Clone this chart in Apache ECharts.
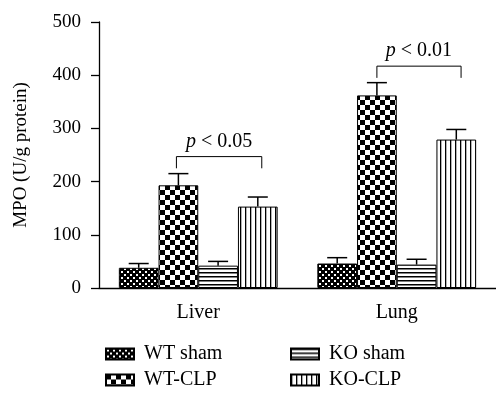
<!DOCTYPE html>
<html>
<head>
<meta charset="utf-8">
<script src="https://cdn.jsdelivr.net/npm/echarts@6/dist/echarts.min.js"></script>
<style>
  html, body { margin: 0; padding: 0; background: #fff; }
  #chart { width: 496px; height: 394px; }
</style>
</head>
<body>
<div id="chart"></div>
<script>
const categories = ['Liver', 'Lung']
const groups = ['WT sham', 'WT-CLP', 'KO sham', 'KO-CLP']

const wtSham = [38, 46]
const wtClp = [193, 362]
const koSham = [42, 44]
const koClp = [153, 279]

const wtShamErr = [8, 11]
const wtClpErr = [22, 24]
const koShamErr = [8, 10]
const koClpErr = [18, 19]

const yTicks = [0, 100, 200, 300, 400, 500]

// [category, left group, right group, bracket top, bracket ends, label]
const brackets = [
  [0, 0.95, 3.1, 247, 225, '0.05'],
  [1, 1, 3.12, 417, 395, '0.01'],
]

const FONT = 'Liberation Serif'

function makePattern(size, draw) {
  const c = document.createElement('canvas')
  c.width = size
  c.height = size
  const ctx = c.getContext('2d')
  ctx.fillStyle = '#fff'
  ctx.fillRect(0, 0, size, size)
  ctx.fillStyle = '#000'
  draw(ctx)
  return { image: c, repeat: 'repeat' }
}

const patterns = [
  makePattern(6, (ctx) => {
    ctx.fillRect(0, 0, 6, 6)
    ctx.fillStyle = '#fff'
    ctx.fillRect(1, 1, 2, 2)
    ctx.fillRect(4, 4, 2, 2)
  }),
  makePattern(10, (ctx) => {
    ctx.fillRect(0, 0, 5, 5)
    ctx.fillRect(5, 5, 5, 5)
  }),
  makePattern(4, (ctx) => {
    ctx.fillRect(0, 0, 4, 1.5)
  }),
  makePattern(5, (ctx) => {
    ctx.fillRect(0, 0, 1.3, 5)
  }),
]

const values = [wtSham, wtClp, koSham, koClp]
const errors = [wtShamErr, wtClpErr, koShamErr, koClpErr]

const barSeries = groups.map((name, s) => ({
  name,
  type: 'bar',
  data: values[s],
  barGap: '0%',
  barCategoryGap: '20%',
  itemStyle: { color: patterns[s], borderColor: '#000', borderWidth: 1 },
  z: 2,
}))

const errData = []
values.forEach((arr, s) => {
  arr.forEach((v, c) => errData.push([c, s, v, errors[s][c]]))
})

function barCenter(api, cat, s) {
  const bandW = api.size([1, 0])[0]
  const bw = (bandW * 0.8) / groups.length
  return api.coord([cat, 0])[0] + (s - (groups.length - 1) / 2) * bw
}

const errSeries = {
  type: 'custom',
  data: errData,
  z: 5,
  silent: true,
  renderItem: (params, api) => {
    const cat = api.value(0)
    const s = api.value(1)
    const mean = api.value(2)
    const err = api.value(3)
    const x = barCenter(api, cat, s)
    const y0 = api.coord([cat, mean])[1]
    const y1 = api.coord([cat, mean + err])[1]
    const style = { stroke: '#000', lineWidth: 1.5 }
    return {
      type: 'group',
      children: [
        { type: 'line', shape: { x1: x, y1: y0, x2: x, y2: y1 }, style },
        { type: 'line', shape: { x1: x - 10, y1: y1, x2: x + 10, y2: y1 }, style },
      ],
    }
  },
}

const bracketSeries = {
  type: 'custom',
  data: brackets,
  z: 5,
  silent: true,
  renderItem: (params, api) => {
    const b = brackets[params.dataIndex]
    const xl = barCenter(api, b[0], b[1])
    const xr = barCenter(api, b[0], b[2])
    const yt = api.coord([b[0], b[3]])[1]
    const ye = api.coord([b[0], b[4]])[1]
    return {
      type: 'group',
      children: [
        {
          type: 'polyline',
          shape: { points: [[xl, ye], [xl, yt], [xr, yt], [xr, ye]] },
          style: { stroke: '#000', lineWidth: 1, fill: null },
        },
        {
          type: 'text',
          x: (xl + xr) / 2,
          y: yt - 5,
          style: {
            text: '{i|p} < ' + b[5],
            align: 'center',
            verticalAlign: 'bottom',
            fontFamily: FONT,
            fontSize: 20,
            fill: '#000',
            rich: { i: { fontStyle: 'italic', fontFamily: FONT, fontSize: 20 } },
          },
        },
      ],
    }
  },
}

function legendItem(name, left, top) {
  return {
    icon: 'rect',
    itemWidth: 28,
    itemHeight: 11,
    left,
    top,
    data: [name],
    textStyle: { fontFamily: FONT, fontSize: 20, color: '#000', padding: [0, 0, 0, 5] },
  }
}

const chart = echarts.init(document.getElementById('chart'))
chart.setOption({
  animation: false,
  backgroundColor: '#fff',
  grid: { left: 99, right: 0, top: 22, bottom: 106 },
  legend: [
    legendItem(groups[0], 100, 339),
    legendItem(groups[1], 100, 365),
    legendItem(groups[2], 285, 339),
    legendItem(groups[3], 285, 365),
  ],
  xAxis: {
    type: 'category',
    data: categories,
    axisLine: { lineStyle: { color: '#000', width: 1.3 } },
    axisTick: { alignWithLabel: true, length: 8, lineStyle: { color: '#000', width: 1.3 } },
    axisLabel: { color: '#000', fontFamily: FONT, fontSize: 20, margin: 15 },
  },
  yAxis: {
    type: 'value',
    min: yTicks[0],
    max: yTicks[yTicks.length - 1],
    interval: 100,
    name: 'MPO (U/g protein)',
    nameLocation: 'middle',
    nameGap: 68,
    nameTextStyle: { color: '#000', fontFamily: FONT, fontSize: 19 },
    axisLine: { show: true, lineStyle: { color: '#000', width: 1.3 } },
    axisTick: { show: true, length: 8, lineStyle: { color: '#000', width: 1.3 } },
    axisLabel: { color: '#000', fontFamily: FONT, fontSize: 19, margin: 18 },
    splitLine: { show: false },
  },
  series: [...barSeries, errSeries, bracketSeries],
})
</script>
</body>
</html>
